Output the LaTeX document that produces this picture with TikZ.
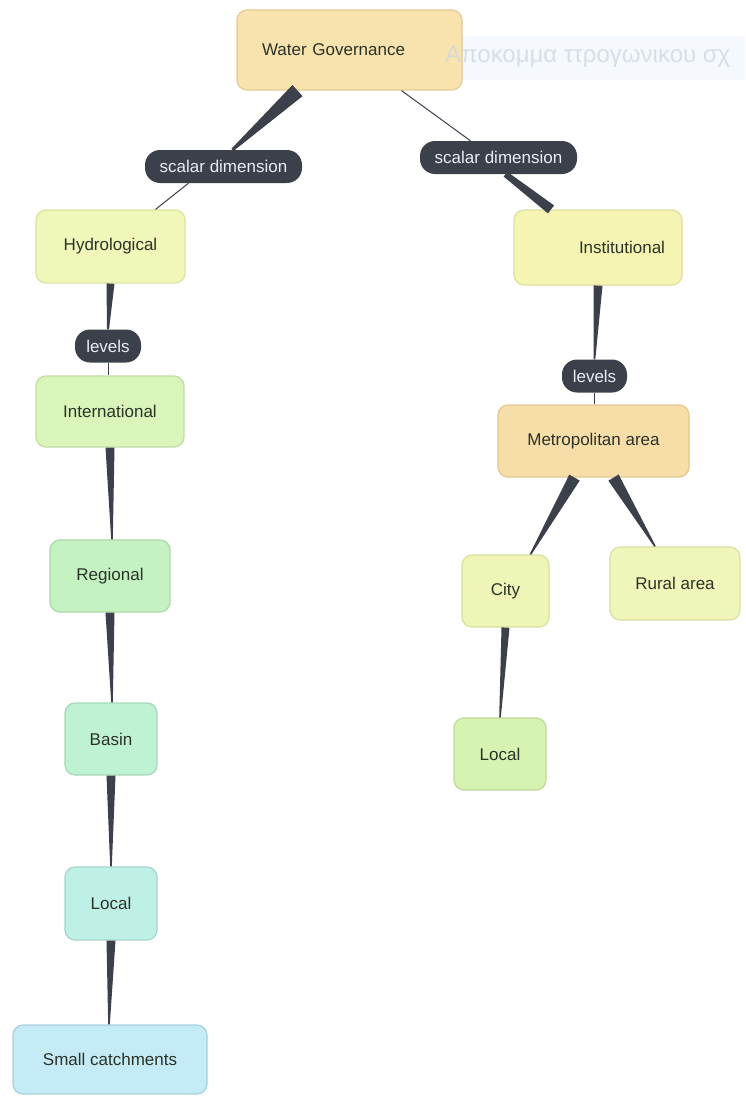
\documentclass[tikz,border=0pt]{standalone}
\usepackage{fontspec}
\setmainfont{Liberation Sans}
\usetikzlibrary{calc}

% concept colours
\definecolor{linkdark}{HTML}{3C404B}
\definecolor{linktext}{HTML}{ECEDF2}
\definecolor{conceptText}{HTML}{2B3328}
\definecolor{cWG}{HTML}{F8E2AE}   \definecolor{bWG}{HTML}{E4CB92}
\definecolor{cHyd}{HTML}{F1F6B9}  \definecolor{bHyd}{HTML}{DCE3A0}
\definecolor{cInst}{HTML}{F6F4B2} \definecolor{bInst}{HTML}{E1DE9C}
\definecolor{cIntl}{HTML}{DAF5B9} \definecolor{bIntl}{HTML}{C2DDA2}
\definecolor{cReg}{HTML}{C5F2C1}  \definecolor{bReg}{HTML}{ABD9A9}
\definecolor{cBas}{HTML}{BEF2D3}  \definecolor{bBas}{HTML}{A5D9BA}
\definecolor{cLocL}{HTML}{BEF0E6} \definecolor{bLocL}{HTML}{A4D6CC}
\definecolor{cSmall}{HTML}{C4EBF6}\definecolor{bSmall}{HTML}{A6D0DE}
\definecolor{cMet}{HTML}{F7DEA8}  \definecolor{bMet}{HTML}{E2C78F}
\definecolor{cCity}{HTML}{EEF5B7} \definecolor{bCity}{HTML}{D8E09F}
\definecolor{cRur}{HTML}{F0F5B9}  \definecolor{bRur}{HTML}{DAE0A1}
\definecolor{cLocR}{HTML}{D6F3B1} \definecolor{bLocR}{HTML}{BDDA98}
\definecolor{snipbg}{HTML}{F5F8FC}
\definecolor{sniptext}{HTML}{CDD6E2}

\tikzset{
  concept/.style={rectangle, rounded corners=10pt, line width=1.2pt,
    font=\fontsize{17}{20}\selectfont, text=conceptText, inner sep=0pt,
    align=center},
  linkword/.style={rectangle, rounded corners=15pt, fill=linkdark,
    text=linktext, font=\fontsize{17}{20}\selectfont, inner sep=0pt,
    minimum height=33pt},
  thinlink/.style={draw=linkdark, line width=1pt},
}

% tapered connector: half width #3 at #1, half width #4 at #2
\newcommand\taper[4]{%
  \fill[linkdark] ($(#1)!#3!90:(#2)$) -- ($(#2)!#4!-90:(#1)$)
    -- ($(#2)!#4!90:(#1)$) -- ($(#1)!#3!-90:(#2)$) -- cycle;}

\begin{document}
\begin{tikzpicture}[x=1pt, y=-1pt]
\useasboundingbox (0,0) rectangle (745,1097);
\clip (0,0) rectangle (745,1097);
\fill[white] (0,0) rectangle (745,1097);

% screen-clipping caption strip on the right
\node[anchor=west, fill=snipbg, inner sep=0pt, minimum height=44pt,
  minimum width=300pt] (snipbox) at (462,58) {};

% concepts
\node[concept, fill=cWG, draw=bWG, minimum height=80pt, text width=175pt,
  inner xsep=25pt, align=left] (wg) at (349.5,50) {Water Governance};

% caption text, faintly over the strip and the top concept
\node[anchor=west, text=sniptext, text opacity=0.75, inner sep=0pt,
  font=\fontsize{24}{26}\selectfont] (snip) at (445,57)
  {Αποκομμα ττρογωνικου σχ};

\node[linkword, minimum width=157pt] (sdl) at (223.5,166.5) {scalar dimension};
\node[linkword, minimum width=157pt] (sdr) at (498.5,157.5) {scalar dimension};

\node[concept, fill=cHyd, draw=bHyd, minimum width=149pt, minimum height=73pt]
  (hyd) at (110.5,246.5) {Hydrological};
\node[concept, fill=cInst, draw=bInst, minimum height=75pt, text width=134pt,
  inner xsep=17pt, align=right] (inst) at (598,247.5) {Institutional};

\node[linkword, minimum width=66pt] (lvl) at (108,346) {levels};
\node[linkword, minimum width=65pt] (lvr) at (594.5,376) {levels};

\node[concept, fill=cIntl, draw=bIntl, minimum width=148pt, minimum height=71pt]
  (intl) at (110,411.5) {International};
\node[concept, fill=cReg, draw=bReg, minimum width=120pt, minimum height=72pt]
  (reg) at (110,576) {Regional};
\node[concept, fill=cBas, draw=bBas, minimum width=92pt, minimum height=72pt]
  (bas) at (111,739) {Basin};
\node[concept, fill=cLocL, draw=bLocL, minimum width=92pt, minimum height=73pt]
  (locl) at (111,903.5) {Local};
\node[concept, fill=cSmall, draw=bSmall, minimum width=194pt, minimum height=69pt]
  (small) at (110,1059.5) {Small catchments};

\node[concept, fill=cMet, draw=bMet, minimum width=191pt, minimum height=72pt]
  (met) at (593.5,441) {Metropolitan area};
\node[concept, fill=cCity, draw=bCity, minimum width=87pt, minimum height=72pt]
  (city) at (505.5,591) {City};
\node[concept, fill=cRur, draw=bRur, minimum width=130pt, minimum height=73pt]
  (rur) at (675,583.5) {Rural area};
\node[concept, fill=cLocR, draw=bLocR, minimum width=92pt, minimum height=72pt]
  (locr) at (500,754) {Local};

% connector end points on the concept borders
\coordinate (wgL) at ([xshift=-52pt]wg.south);
\coordinate (wgR) at ([xshift=52pt]wg.south);
\coordinate (sdlT) at ([xshift=9pt]sdl.north);
\coordinate (sdlB) at ([xshift=-35pt]sdl.south);
\coordinate (hydT) at ([xshift=45pt]hyd.north);
\coordinate (sdrT) at ([xshift=-28pt]sdr.north);
\coordinate (sdrB) at ([xshift=7pt]sdr.south);
\coordinate (instT) at ([xshift=-47pt]inst.north);
\coordinate (metL) at ([xshift=-19pt]met.south);
\coordinate (metR) at ([xshift=20pt]met.south);
\coordinate (cityT) at ([xshift=25pt]city.north);
\coordinate (rurT) at ([xshift=-20pt]rur.north);

% scalar dimension links
\taper{wgL}{sdlT}{7.5pt}{1.5pt}
\draw[thinlink] (sdlB) -- (hydT);
\draw[thinlink] (wgR) -- (sdrT);
\taper{sdrB}{instT}{3pt}{5pt}

% hydrological levels
\taper{hyd.south}{lvl.north}{4pt}{1pt}
\draw[thinlink] (lvl.south) -- ([xshift=-2pt]intl.north);
\taper{intl.south}{[xshift=2pt]reg.north}{4.5pt}{0.8pt}
\taper{reg.south}{[xshift=1pt]bas.north}{4.5pt}{0.8pt}
\taper{bas.south}{locl.north}{4.5pt}{0.8pt}
\taper{locl.south}{[xshift=-1pt]small.north}{4.5pt}{0.8pt}

% institutional levels
\taper{inst.south}{lvr.north}{4.5pt}{0.8pt}
\draw[thinlink] (lvr.south) -- ([xshift=1pt]met.north);
\taper{metL}{cityT}{6pt}{0.8pt}
\taper{metR}{rurT}{6pt}{0.8pt}
\taper{city.south}{locr.north}{4pt}{0.8pt}
\end{tikzpicture}
\end{document}
